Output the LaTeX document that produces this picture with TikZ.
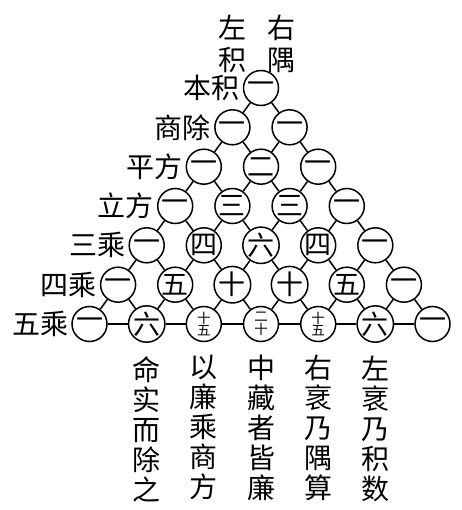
\documentclass[tikz,border=0pt]{standalone}
\usepackage{fontspec}
\newfontfamily\cjk{Noto Sans CJK SC}
\usepackage{tikz}
\usetikzlibrary{positioning}

\begin{document}
\begin{tikzpicture}[x=1pt,y=-1pt,
	main_node/.style={circle,draw,line width=1.5pt,minimum size=35pt,inner sep=0pt,font=\cjk\fontsize{27}{27}\selectfont},
	small_node/.style={main_node,align=center,font=\cjk\fontsize{13.5}{12.5}\selectfont},
	side_label/.style={inner sep=0pt,align=center,font=\cjk\fontsize{28}{30}\selectfont},
	every edge/.append style={line width=1.5pt}]
				\useasboundingbox (0,0) rectangle (461,510);
				% rows of the triangle
				\node[main_node](00) at (261,88){一};
				\node[main_node](10) at (232.4,127.3){一};
				\node[main_node](11) at (289.6,127.3){一};
				\node[main_node](20) at (203.8,166.7){一};
				\node[main_node](21) at (261,166.7){二};
				\node[main_node](22) at (318.2,166.7){一};
				\node[main_node](30) at (175.2,206){一};
				\node[main_node](31) at (232.4,206){三};
				\node[main_node](32) at (289.6,206){三};
				\node[main_node](33) at (346.8,206){一};
				\node[main_node](40) at (146.7,245.3){一};
				\node[main_node](41) at (203.8,245.3){四};
				\node[main_node](42) at (261,245.3){六};
				\node[main_node](43) at (318.2,245.3){四};
				\node[main_node](44) at (375.3,245.3){一};
				\node[main_node](50) at (118.1,284.7){一};
				\node[main_node](51) at (175.2,284.7){五};
				\node[main_node](52) at (232.4,284.7){十};
				\node[main_node](53) at (289.6,284.7){十};
				\node[main_node](54) at (346.8,284.7){五};
				\node[main_node](55) at (403.9,284.7){一};
				\node[main_node](60) at (89.5,324){一};
				\node[main_node](61) at (146.7,324){六};
				\node[small_node](62) at (203.8,324){十\\五};
				\node[small_node](63) at (261,324){二\\十};
				\node[small_node](64) at (318.2,324){十\\五};
				\node[main_node](65) at (375.3,324){六};
				\node[main_node](66) at (432.5,324){一};
				\path
				(00) edge (10) (00) edge (11)
				(10) edge (20) (10) edge (21) (11) edge (21) (11) edge (22)
				(20) edge (30) (20) edge (31) (21) edge (31) (21) edge (32) (22) edge (32) (22) edge (33)
				(30) edge (40) (30) edge (41) (31) edge (41) (31) edge (42) (32) edge (42) (32) edge (43)
				(33) edge (43) (33) edge (44)
				(40) edge (50) (40) edge (51) (41) edge (51) (41) edge (52) (42) edge (52) (42) edge (53)
				(43) edge (53) (43) edge (54) (44) edge (54) (44) edge (55)
				(50) edge (60) (50) edge (61) (51) edge (61) (51) edge (62) (52) edge (62) (52) edge (63)
				(53) edge (63) (53) edge (64) (54) edge (64) (54) edge (65) (55) edge (65) (55) edge (66)
				(60) edge (61) (61) edge (62) (62) edge (63) (63) edge (64) (64) edge (65) (65) edge (66);
				% names of the rows
				\node[side_label, left=3pt of 00](l0){本积};
				\node[side_label, left=3pt of 10](l1){商除};
				\node[side_label, left=3pt of 20](l2){平方};
				\node[side_label, left=3pt of 30](l3){立方};
				\node[side_label, left=3pt of 40](l4){三乘};
				\node[side_label, left=3pt of 50](l5){四乘};
				\node[side_label, left=3pt of 60](l6){五乘};
				\node[side_label](left_top) at (232,44){左\\[2pt]积};
				\node[side_label](right_top) at (281,44){右\\[2pt]隅};
				% columns under the base
				\node[side_label, below=13pt of 61](c1){命\\实\\而\\除\\之};
				\node[side_label, below=13pt of 62](c2){以\\廉\\乘\\商\\方};
				\node[side_label, below=13pt of 63](c3){中\\藏\\者\\皆\\廉};
				\node[side_label, below=13pt of 64](c4){右\\衺\\乃\\隅\\算};
				\node[side_label, below=13pt of 65](c5){左\\衺\\乃\\积\\数};
			\end{tikzpicture}
\end{document}
